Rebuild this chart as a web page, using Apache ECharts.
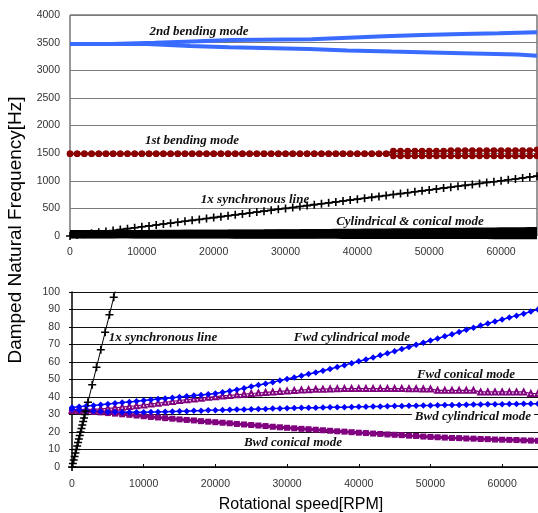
<!DOCTYPE html>
<html><head><meta charset="utf-8">
<script src="https://cdn.jsdelivr.net/npm/echarts@6/dist/echarts.min.js"></script>
<style>html,body{margin:0;padding:0;background:#fff}#c{width:538px;height:513px}</style>
</head><body><div id="c"></div>
<script>
// Rotational speed samples (RPM)
const rpm = [0,1000,2000,3000,4000,5000,6000,7000,8000,9000,10000,11000,12000,13000,14000,15000,16000,17000,18000,19000,20000,21000,22000,23000,24000,25000,26000,27000,28000,29000,30000,31000,32000,33000,34000,35000,36000,37000,38000,39000,40000,41000,42000,43000,44000,45000,46000,47000,48000,49000,50000,51000,52000,53000,54000,55000,56000,57000,58000,59000,60000,61000,62000,63000,64000,65000];

// Low-frequency modes [Hz]
const fwdCyl = [34.0,34.4,34.8,35.2,35.6,36.0,36.4,36.8,37.2,37.6,38.0,38.4,38.8,39.2,39.6,40.0,40.4,40.8,41.2,41.6,42.0,42.7,43.4,44.2,45.0,46.0,46.8,47.6,48.5,49.4,50.3,51.2,52.1,53.1,54.0,55.0,56.0,57.1,58.2,59.3,60.4,61.5,62.6,63.8,65.0,66.2,67.4,68.6,69.8,71.0,72.3,73.5,74.7,75.9,77.1,78.4,79.6,80.8,82.0,83.2,84.3,85.4,86.5,87.6,88.8,90.0];
const fwdCon = [32.5,32.6,32.8,33.0,33.2,33.5,33.8,34.2,34.6,35.0,35.5,36.0,36.5,37.0,37.5,38.0,38.5,38.9,39.3,39.8,40.2,40.6,40.9,41.3,41.6,42.0,42.3,42.6,42.9,43.2,43.5,43.7,44.0,44.2,44.4,44.5,44.6,44.7,44.8,44.8,44.8,44.8,44.8,44.8,44.8,44.8,44.8,44.7,44.7,44.6,44.6,43.8,43.8,43.8,43.8,43.8,43.8,42.9,42.9,42.9,42.9,42.9,42.9,42.9,42.0,42.0];
const bwdCyl = [33.0,32.6,32.3,32.0,31.7,31.5,31.4,31.3,31.3,31.3,31.3,31.4,31.5,31.6,31.7,31.8,31.9,32.1,32.2,32.4,32.5,32.6,32.7,32.8,32.9,33.0,33.1,33.2,33.4,33.5,33.6,33.7,33.8,33.8,33.9,34.0,34.1,34.2,34.2,34.3,34.4,34.5,34.6,34.6,34.7,34.8,34.9,35.0,35.0,35.1,35.2,35.3,35.4,35.4,35.5,35.6,35.7,35.7,35.8,35.8,35.9,36.0,36.0,36.1,36.1,36.2];
const bwdCon = [32.0,31.9,31.7,31.5,31.2,30.8,30.5,30.1,29.8,29.4,29.0,28.6,28.3,27.9,27.6,27.2,26.9,26.6,26.2,25.9,25.6,25.3,25.0,24.6,24.3,24.0,23.7,23.4,23.0,22.7,22.4,22.1,21.8,21.6,21.3,21.0,20.7,20.4,20.2,19.9,19.6,19.4,19.1,18.9,18.6,18.4,18.2,17.9,17.7,17.4,17.2,17.0,16.8,16.6,16.5,16.3,16.2,16.0,15.9,15.7,15.6,15.5,15.4,15.2,15.1,15.0];

// 1st bending mode [Hz]
const bend1Fwd = [1490,1490,1490,1490,1490,1490,1490,1490,1490,1490,1490,1490,1490,1490,1490,1490,1490,1490,1490,1490,1490,1490,1490,1490,1490,1490,1490,1490,1490,1490,1490,1490,1490,1490,1490,1490,1490,1490,1490,1490,1490,1490,1490,1490,1490,1540,1540,1540,1540,1540,1540,1540,1540,1548,1548,1548,1548,1548,1548,1548,1548,1548,1548,1548,1548,1560];
const bend1Bwd = [1490,1490,1490,1490,1490,1490,1490,1490,1490,1490,1490,1490,1490,1490,1490,1490,1490,1490,1490,1490,1490,1490,1490,1490,1490,1490,1490,1490,1490,1490,1490,1490,1490,1490,1490,1490,1490,1490,1490,1490,1490,1490,1490,1490,1490,1450,1450,1450,1450,1450,1450,1450,1450,1450,1450,1450,1450,1450,1450,1450,1450,1450,1450,1450,1450,1450];

// 2nd bending mode [Hz]
const bend2FwdRpm = [0,5700,11800,17000,22500,33600,38700,43700,49000,54600,59700,65000];
const bend2Fwd    = [3475,3498,3522,3547,3562,3590,3614,3636,3655,3668,3686,3686];
const bend2BwdRpm = [0,10700,16700,22200,33300,38600,44700,50100,56200,62300,65000];
const bend2Bwd    = [3475,3440,3415,3385,3358,3338,3323,3305,3285,3262,3262];

// 1x synchronous line [Hz]
const syncHzTop = [0,17,33,50,67,83,100,117,133,150,167,183,200,217,233,250,267,283,300,317,333,350,367,383,400,417,433,450,467,483,500,517,533,550,567,583,600,617,633,650,667,683,700,717,733,750,767,783,800,817,833,850,867,883,900,917,933,950,967,983,1000,1017,1033,1050,1067,1083];
const syncRpmLow = [0,120,240,360,480,600,720,840,960,1080,1200,1320,1440,1560,1680,1800,1920,2220,2820,3420,4020,4620,5220,5820,6420];
const syncHzLow  = [0,2,4,6,8,10,12,14,16,18,20,22,24,26,28,30,32,37,47,57,67,77,87,97,107];

// Tick settings
const xTicks = {min:0, max:65000, interval:10000};
const yTopTicks = {min:0, max:4000, interval:500};
const yLowTicks = {min:0, max:100, interval:10};

const zip = (xs, ys) => xs.map((x,i)=>[x, ys[i]]);
const PLUS = 'path://M4,0h2v4h4v2h-4v4h-2v-4h-4v-2h4z';
const lbl = {fontFamily:'Liberation Sans', fontSize:10.5, color:'#333', formatter: v => String(v)};
const ann = (text, x, y, bg) => ({type:'text', x, y, z: bg ? 1 : 50, style:{text, x:0, y:0,
  font:'italic bold 13px "Liberation Serif"', fill:'#111', textAlign:'center', textVerticalAlign:'middle',
  align:'center', verticalAlign:'middle', backgroundColor: bg ? '#fff' : undefined, padding: bg ? [1,3] : 0}});

const chart = echarts.init(document.getElementById('c'), null, {renderer:'canvas'});
const BLUE2 = '#3A6BFF', BLUE = '#0000FF', PURPLE = '#800080', DRED = '#8B0000';

chart.setOption({
  animation:false,
  backgroundColor:'#fff',
  grid:[
    {left:70, right:1, top:15, height:221, show:true, borderColor:'#333', borderWidth:1},
    {left:72, right:0, top:292, height:175}
  ],
  xAxis:[
    Object.assign({type:'value', gridIndex:0, axisLine:{show:false}, axisTick:{show:false}, splitLine:{show:false},
      axisLabel:Object.assign({margin:11, showMaxLabel:false}, lbl)}, xTicks),
    Object.assign({type:'value', gridIndex:1, axisLine:{show:true, lineStyle:{color:'#000', width:1.5}},
      axisTick:{show:true, inside:true, length:3, lineStyle:{color:'#000'}}, splitLine:{show:false},
      axisLabel:Object.assign({margin:12, showMaxLabel:false}, lbl)}, xTicks)
  ],
  yAxis:[
    Object.assign({type:'value', gridIndex:0, axisLine:{show:false}, axisTick:{show:false},
      splitLine:{show:true, lineStyle:{color:'#7a7a7a', width:1}}, axisLabel:Object.assign({margin:10}, lbl)}, yTopTicks),
    Object.assign({type:'value', gridIndex:1, axisLine:{show:true, lineStyle:{color:'#000', width:1.5}},
      axisTick:{show:true, length:3, lineStyle:{color:'#000'}},
      splitLine:{show:true, lineStyle:{color:'#111', width:1}}, axisLabel:Object.assign({margin:12}, lbl)}, yLowTicks)
  ],
  series:[
    // top panel
    {type:'line', xAxisIndex:0, yAxisIndex:0, data:zip(bend2FwdRpm, bend2Fwd), step:'end', showSymbol:false, lineStyle:{color:BLUE2, width:4}},
    {type:'line', xAxisIndex:0, yAxisIndex:0, data:zip(bend2BwdRpm, bend2Bwd), step:'end', showSymbol:false, lineStyle:{color:BLUE2, width:4}},
    {type:'line', xAxisIndex:0, yAxisIndex:0, data:zip(rpm, bend1Fwd), symbol:'circle', symbolSize:6.5, itemStyle:{color:DRED}, lineStyle:{color:DRED, width:2}},
    {type:'line', xAxisIndex:0, yAxisIndex:0, data:zip(rpm, bend1Bwd), symbol:'circle', symbolSize:6.5, itemStyle:{color:DRED}, lineStyle:{color:DRED, width:2}},
    {type:'line', xAxisIndex:0, yAxisIndex:0, data:zip(rpm, syncHzTop), symbol:PLUS, symbolSize:8, itemStyle:{color:'#000'}, lineStyle:{color:'#000', width:1.5}},
    {type:'line', xAxisIndex:0, yAxisIndex:0, data:zip(rpm, bwdCon), clip:false, showSymbol:false, lineStyle:{color:'#000', width:8}},
    {type:'line', xAxisIndex:0, yAxisIndex:0, data:zip(rpm, fwdCon), clip:false, showSymbol:false, lineStyle:{color:'#000', width:8}},
    {type:'line', xAxisIndex:0, yAxisIndex:0, data:zip(rpm, bwdCyl), clip:false, showSymbol:false, lineStyle:{color:'#000', width:8}},
    {type:'line', xAxisIndex:0, yAxisIndex:0, data:zip(rpm, fwdCyl), clip:false, showSymbol:false, lineStyle:{color:'#000', width:8}},
    // bottom panel
    {type:'line', xAxisIndex:1, yAxisIndex:1, data:zip(rpm, bwdCon), symbol:'rect', symbolSize:6, itemStyle:{color:PURPLE}, lineStyle:{color:PURPLE, width:3}},
    {type:'line', xAxisIndex:1, yAxisIndex:1, data:zip(rpm, fwdCon), symbol:'emptyTriangle', symbolSize:5, itemStyle:{color:PURPLE, borderWidth:1}, lineStyle:{color:PURPLE, width:1.2}},
    {type:'line', xAxisIndex:1, yAxisIndex:1, data:zip(rpm, bwdCyl), symbol:'diamond', symbolSize:6.5, itemStyle:{color:BLUE}, lineStyle:{color:BLUE, width:1.5}},
    {type:'line', xAxisIndex:1, yAxisIndex:1, data:zip(rpm, fwdCyl), symbol:'diamond', symbolSize:6.5, itemStyle:{color:BLUE}, lineStyle:{color:BLUE, width:1.5}},
    {type:'line', xAxisIndex:1, yAxisIndex:1, data:zip(syncRpmLow, syncHzLow), symbol:PLUS, symbolSize:8, itemStyle:{color:'#000'}, lineStyle:{color:'#000', width:1}}
  ],
  graphic:[
    ann('2nd bending mode', 199, 32),
    ann('1st bending mode', 192, 141),
    ann('1x synchronous line', 255, 200, true),
    ann('Cylindrical & conical mode', 410, 222),
    ann('1x synchronous line', 163, 338),
    ann('Fwd cylindrical mode', 352, 338),
    ann('Fwd conical mode', 466, 375),
    ann('Bwd cylindrical mode', 473, 417, true),
    ann('Bwd conical mode', 293, 443),
    {type:'text', x:16, y:230, rotation:Math.PI/2, style:{text:'Damped Natural Frequency[Hz]', x:0, y:0,
      font:'19px "Liberation Sans"', fill:'#000', textAlign:'center', textVerticalAlign:'middle', align:'center', verticalAlign:'middle'}},
    {type:'text', x:301, y:505, style:{text:'Rotational speed[RPM]', x:0, y:0,
      font:'16px "Liberation Sans"', fill:'#000', textAlign:'center', textVerticalAlign:'middle', align:'center', verticalAlign:'middle'}}
  ]
});
</script></body></html>
